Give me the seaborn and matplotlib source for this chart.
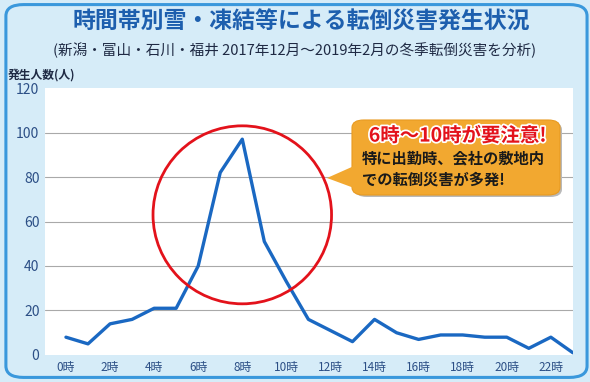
import numpy as np
import pandas as pd
import seaborn as sns
import matplotlib.pyplot as plt
from matplotlib.patches import FancyBboxPatch, Ellipse, Polygon
import matplotlib.patheffects as pe

# Data
hours = list(range(24))
counts = [8, 5, 14, 16, 21, 21, 40, 82, 97, 51, 33, 16, 11, 6, 16, 10, 7, 9, 9, 8, 8, 3, 8, 1]
hour_ticks = list(range(0, 24, 2))
hour_labels = ['{}時'.format(h) for h in hour_ticks]
y_ticks = [0, 20, 40, 60, 80, 100, 120]

df = pd.DataFrame({'hour': hours, 'count': counts})

sns.set_style('white')
plt.rcParams['font.family'] = ['Noto Sans CJK JP', 'DejaVu Sans']

bg = '#d6ecf8'
navy = '#2c4f86'

fig = plt.figure(figsize=(5.9, 3.82), dpi=100, facecolor=bg)
ax = fig.add_axes([0.0763, 0.0707, 0.8947, 0.6989])
ax.set_facecolor('white')

# rounded blue frame
frame = FancyBboxPatch((0.01, 0.012), 0.985, 0.976, boxstyle='round,pad=0,rounding_size=0.03',
                       transform=fig.transFigure, facecolor='none', edgecolor='#3a98dc', lw=2.2)
fig.patches.append(frame)

for y in y_ticks[1:-1]:
    ax.axhline(y, color='#a9a9a9', lw=0.8, zorder=1)

sns.lineplot(data=df, x='hour', y='count', ax=ax, color='#1a68c2', lw=2.4, zorder=3)

ax.set_xlim(-0.95, 23.0)
ax.set_ylim(0, 120)
ax.set_xticks(hour_ticks)
ax.set_xticklabels(hour_labels)
ax.set_yticks(y_ticks)
ax.tick_params(axis='x', length=0, pad=4, labelsize=8.5, labelcolor=navy)
ax.tick_params(axis='y', length=0, pad=4, labelsize=10, labelcolor=navy)
for s in ax.spines.values():
    s.set_visible(False)
ax.set_xlabel('')
ax.set_ylabel('')

# red circle around the peak
circ = Ellipse((8.0, 63), width=8.1, height=80, fill=False, edgecolor='#e3121b', lw=2.0, zorder=4)
ax.add_patch(circ)

# callout
def fx(px):
    return px / 590

def fy(py):
    return 1 - py / 382

shadow = FancyBboxPatch((fx(355), fy(197)), fx(562) - fx(355), fy(122) - fy(197),
                        boxstyle='round,pad=0,rounding_size=0.02', transform=fig.transFigure,
                        facecolor='#b9b9b9', edgecolor='none', zorder=5)
box = FancyBboxPatch((fx(352), fy(195)), fx(560) - fx(352), fy(120) - fy(195),
                     boxstyle='round,pad=0,rounding_size=0.02', transform=fig.transFigure,
                     facecolor='#f2a830', edgecolor='#e89a20', lw=0.8, zorder=6)
pointer = Polygon([(fx(354), fy(166)), (fx(327), fy(178)), (fx(354), fy(188))], closed=True,
                  transform=fig.transFigure, facecolor='#f2a830', edgecolor='none', zorder=7)
fig.patches.extend([shadow, box, pointer])

fig.text(fx(458), fy(136), '6時～10時が要注意!', ha='center', va='center', fontsize=14,
         fontweight='bold', color='#e3121b', zorder=8,
         path_effects=[pe.withStroke(linewidth=2.5, foreground='white')])
fig.text(fx(362), fy(158), '特に出勤時、会社の敷地内', ha='left', va='center', fontsize=11,
         fontweight='bold', color='#1a1a1a', zorder=8)
fig.text(fx(362), fy(180), 'での転倒災害が多発!', ha='left', va='center', fontsize=11,
         fontweight='bold', color='#1a1a1a', zorder=8)

# titles
fig.text(0.51, fy(22), '時間帯別雪・凍結等による転倒災害発生状況', ha='center', va='center',
         fontsize=16.5, fontweight='bold', color='#1d5fae')
fig.text(0.50, fy(50), '(新潟・富山・石川・福井 2017年12月～2019年2月の冬季転倒災害を分析)',
         ha='center', va='center', fontsize=10.5, color='#1f2a44')
fig.text(fx(8), fy(75), '発生人数(人)', ha='left', va='center', fontsize=8.5,
         fontweight='bold', color='#1f2a44')

fig.savefig('out.png', dpi=100, facecolor=bg)
